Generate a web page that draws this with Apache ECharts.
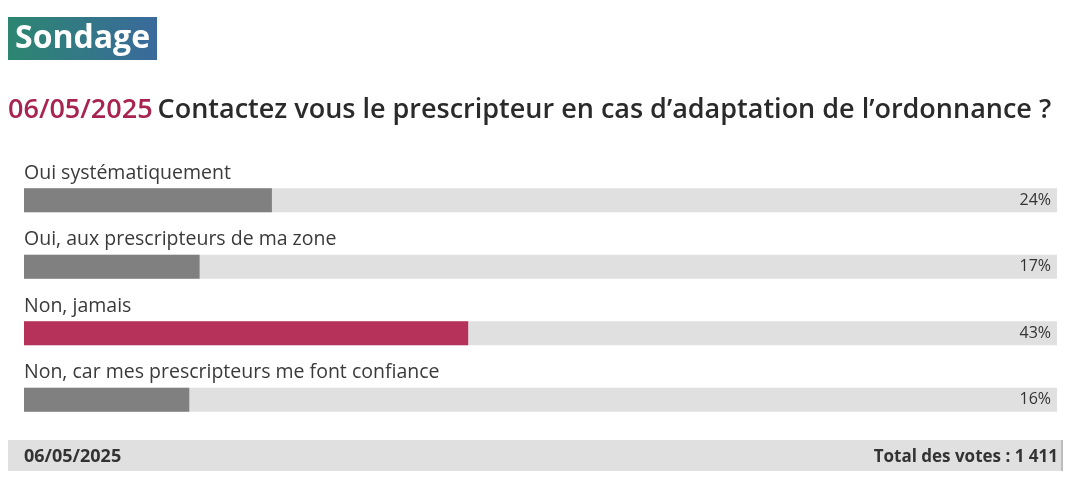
<!DOCTYPE html>
<html><head><meta charset="utf-8">
<script src="https://cdn.jsdelivr.net/npm/echarts@6/dist/echarts.min.js"></script>
<style>html,body{margin:0;padding:0;background:#fff}#c{width:1090px;height:499px}</style>
</head><body><div id="c"></div>
<script>
const categories = ["Oui systématiquement", "Oui, aux prescripteurs de ma zone", "Non, jamais", "Non, car mes prescripteurs me font confiance"];
const percents = [24, 17, 43, 16];
const highlightIndex = 2;
const pollDate = "06/05/2025";
const question = "Contactez vous le prescripteur en cas d’adaptation de l’ordonnance ?";
const totalVotes = "1 411";

const FONT = "'Open Sans', 'Noto Sans', sans-serif";
const chart = echarts.init(document.getElementById('c'), null, {renderer: 'canvas'});
chart.setOption({
  backgroundColor: '#fff',
  animation: false,
  title: [
    {text: 'Sondage', left: 8, top: 17, padding: [4, 7, 3, 7],
     backgroundColor: new echarts.graphic.LinearGradient(0, 0, 1, 0, [{offset: 0, color: '#2c8670'}, {offset: 1, color: '#3a6a9c'}]),
     textStyle: {color: '#fff', fontSize: 32, lineHeight: 36, fontWeight: 'bold', fontFamily: FONT}},
    {text: '{d|' + pollDate + '} {q|' + question + '}', left: 8, top: 97, padding: 0,
     textStyle: {rich: {
       d: {color: '#a8244f', fontSize: 27, fontWeight: 600, fontFamily: FONT},
       q: {color: '#2a2a2a', fontSize: 27, fontWeight: 600, fontFamily: FONT}}}},
    {text: pollDate, left: 24, top: 448, padding: 0, textStyle: {color: '#333', fontSize: 18, fontWeight: 'bold', fontFamily: FONT}},
    {text: 'Total des votes : ' + totalVotes, right: 32, top: 449, padding: 0, textStyle: {color: '#333', fontSize: 17, fontWeight: 'bold', fontFamily: FONT}}
  ],
  graphic: [
    {type: 'rect', left: 8, top: 440, shape: {width: 1054, height: 31}, style: {fill: '#e0e0e0'}, z: -10},
    {type: 'rect', left: 1061, top: 440, shape: {width: 2, height: 31}, style: {fill: '#bdbdbd'}, z: -10}
  ],
  grid: {left: 24, right: 33, top: 167, bottom: 66, containLabel: false},
  xAxis: {type: 'value', min: 0, max: 100, show: false},
  yAxis: [
    {type: 'category', data: categories, inverse: true, z: 10,
     axisLine: {show: false}, axisTick: {show: false}, splitLine: {show: false},
     axisLabel: {inside: true, margin: 0, align: 'left', verticalAlign: 'bottom', padding: [0, 0, 17, 0],
       color: '#3a3a3a', fontSize: 19.5, fontFamily: FONT}},
    {type: 'category', data: percents.map(v => v + '%'), inverse: true, position: 'right', z: 10,
     axisLine: {show: false}, axisTick: {show: false}, splitLine: {show: false},
     axisLabel: {inside: true, margin: 6, align: 'right', verticalAlign: 'middle', padding: [5, 0, 0, 0],
       color: '#333', fontSize: 16, fontFamily: FONT}}
  ],
  series: [{
    type: 'bar', yAxisIndex: 0, barWidth: 24,
    data: percents.map((v, i) => ({value: v, itemStyle: {color: i === highlightIndex ? '#b6325a' : '#808080'}})),
    showBackground: true, backgroundStyle: {color: '#e0e0e0'},
    label: {show: false}
  }]
});
</script></body></html>
